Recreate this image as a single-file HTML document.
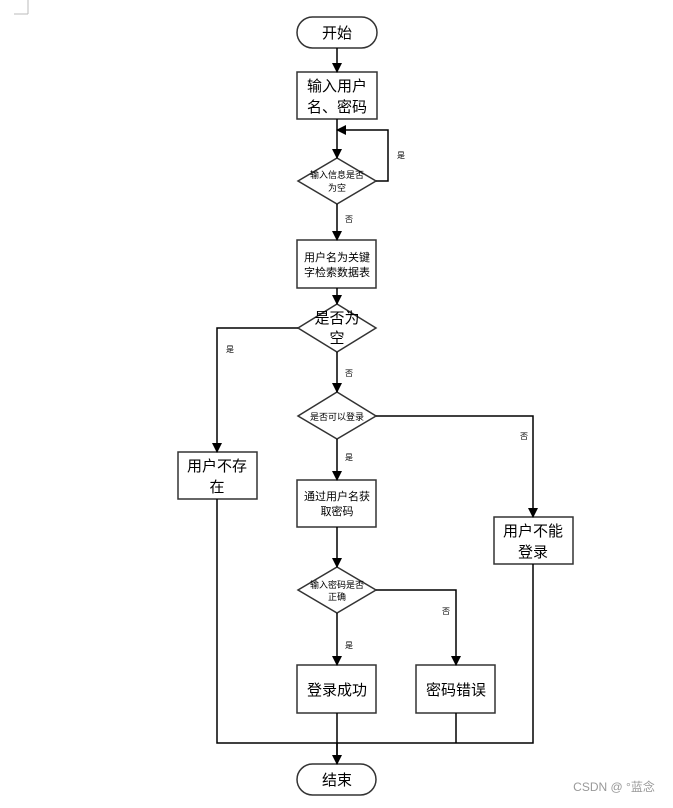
<!DOCTYPE html>
<html><head><meta charset="utf-8"><style>body{margin:0;background:#fff}</style></head><body>
<svg width="673" height="803" xmlns="http://www.w3.org/2000/svg" font-family="Liberation Sans, Noto Sans CJK SC, sans-serif">
<defs><marker id="a" markerWidth="10" markerHeight="10" refX="9" refY="5" orient="auto" markerUnits="userSpaceOnUse"><path d="M0,0 L10,5 L0,10 z" fill="#000"/></marker></defs>
<path d="M28,0 V14 M14,14 H28" stroke="#bbb" fill="none"/>
<g fill="#fff" stroke="#333" stroke-width="1.5">
<rect x="297" y="17" width="80" height="31" rx="15.5"/>
<rect x="297" y="72" width="80" height="47"/>
<polygon points="337,158 376,181 337,204 298,181"/>
<rect x="297" y="240" width="79" height="48"/>
<polygon points="337,304 376,328 337,352 298,328"/>
<polygon points="337,392 376,416 337,439 298,416"/>
<rect x="178" y="452" width="79" height="47"/>
<rect x="297" y="480" width="79" height="47"/>
<rect x="494" y="517" width="79" height="47"/>
<polygon points="337,567 376,590 337,613 298,590"/>
<rect x="297" y="665" width="79" height="48"/>
<rect x="416" y="665" width="79" height="48"/>
<rect x="297" y="764" width="79" height="31" rx="15.5"/>
</g>
<g stroke="#000" stroke-width="1.5" fill="none">
<path d="M337,48 V72" marker-end="url(#a)"/>
<path d="M337,119 V158" marker-end="url(#a)"/>
<path d="M376,181 H388 V130 H337" marker-end="url(#a)"/>
<path d="M337,204 V240" marker-end="url(#a)"/>
<path d="M337,288 V304" marker-end="url(#a)"/>
<path d="M298,328 H217 V452" marker-end="url(#a)"/>
<path d="M337,352 V392" marker-end="url(#a)"/>
<path d="M376,416 H533 V517" marker-end="url(#a)"/>
<path d="M337,439 V480" marker-end="url(#a)"/>
<path d="M337,527 V567" marker-end="url(#a)"/>
<path d="M376,590 H456 V665" marker-end="url(#a)"/>
<path d="M337,613 V665" marker-end="url(#a)"/>
<path d="M217,499 V743 H533 V564 M456,713 V743 M337,713 V764" />
<path d="M337,743 V764" marker-end="url(#a)"/>
</g>
<g text-anchor="middle" fill="#000">
<text x="337" y="38" font-size="15">开始</text>
<text x="337" y="91" font-size="15">输入用户</text>
<text x="337" y="112" font-size="15">名、密码</text>
<text x="337" y="178" font-size="9">输入信息是否</text>
<text x="337" y="191" font-size="9">为空</text>
<text x="337" y="261" font-size="11">用户名为关键</text>
<text x="337" y="276" font-size="11">字检索数据表</text>
<text x="337" y="323" font-size="15">是否为</text>
<text x="337" y="343" font-size="15">空</text>
<text x="337" y="420" font-size="9">是否可以登录</text>
<text x="217" y="471" font-size="15">用户不存</text>
<text x="217" y="492" font-size="15">在</text>
<text x="337" y="500" font-size="11">通过用户名获</text>
<text x="337" y="515" font-size="11">取密码</text>
<text x="533" y="536" font-size="15">用户不能</text>
<text x="533" y="557" font-size="15">登录</text>
<text x="337" y="588" font-size="9">输入密码是否</text>
<text x="337" y="600" font-size="9">正确</text>
<text x="337" y="695" font-size="15">登录成功</text>
<text x="456" y="695" font-size="15">密码错误</text>
<text x="337" y="785" font-size="15">结束</text>
<g font-size="8">
<text x="401" y="158">是</text><text x="349" y="222">否</text>
<text x="230" y="352">是</text><text x="349" y="376">否</text>
<text x="524" y="439">否</text><text x="349" y="460">是</text>
<text x="446" y="614">否</text><text x="349" y="648">是</text>
</g>
<text x="614" y="791" font-size="12" fill="#999">CSDN @ °蓝念</text>
</g>
</svg>
</body></html>
